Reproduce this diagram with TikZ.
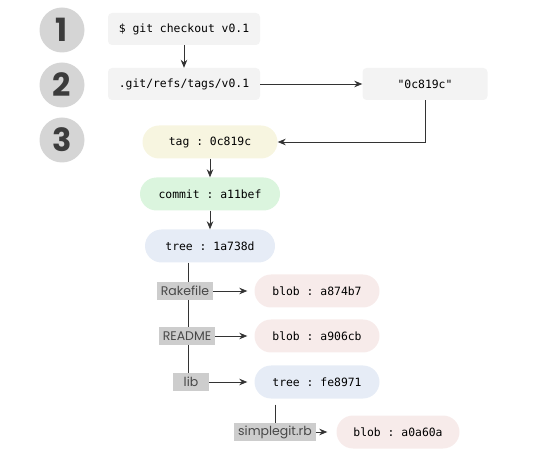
\documentclass[tikz,border=0pt]{standalone}
\usepackage{fontspec}
\setmainfont{Poppins}
\setmonofont{DejaVu Sans Mono}
\usetikzlibrary{arrows.meta}
\definecolor{numgray}{HTML}{D5D5D5}
\definecolor{numtext}{HTML}{3C3C3C}
\definecolor{cmdbg}{HTML}{F3F3F3}
\definecolor{tagbg}{HTML}{F7F5E0}
\definecolor{commitbg}{HTML}{DBF5DE}
\definecolor{treebg}{HTML}{E6ECF6}
\definecolor{blobbg}{HTML}{F7EBEA}
\definecolor{labelgray}{HTML}{CDCDCD}
\definecolor{labeltext}{HTML}{484848}
\definecolor{linegray}{HTML}{333333}
\begin{document}
\begin{tikzpicture}[x=1pt,y=-1pt,
  num/.style={circle,fill=numgray,minimum size=45pt,inner sep=0pt,text=numtext,font=\fontsize{32}{32}\selectfont\bfseries},
  cmd/.style={rectangle,rounded corners=4pt,fill=cmdbg,minimum height=32pt,font=\fontsize{11.4}{12}\ttfamily},
  obj/.style={rectangle,rounded corners=16.5pt,minimum height=33pt,font=\fontsize{11.4}{12}\ttfamily},
  fname/.style={rectangle,fill=labelgray,inner xsep=4pt,inner ysep=1pt,minimum height=17.5pt,text=labeltext,font=\fontsize{12.5}{12.5}\selectfont},
  link/.style={-{Stealth[length=8pt,width=6.5pt]},thick,draw=linegray}]
    \useasboundingbox (0,0) rectangle (549,462);
    \node[num] (one) at (62,30) {1};
    \node[num] (two) at (62,85) {2};
    \node[num] (three) at (62,140) {3};

    \node[cmd,minimum width=152pt] (checkout) at (184,29) {\$ git checkout v0.1};
    \node[cmd,minimum width=152pt] (ref) at (184,84) {.git/refs/tags/v0.1};
    \node[cmd,minimum width=125pt] (sha) at (425,84) {"0c819c"};

    \node[obj,fill=tagbg,minimum width=135pt] (tag) at (210,142) {tag : 0c819c};
    \node[obj,fill=commitbg,minimum width=140pt] (commit) at (210,194) {commit : a11bef};
    \node[obj,fill=treebg,minimum width=130pt] (tree) at (210,246) {tree : 1a738d};

    \node[fname] (rake) at (185,291) {Rakefile};
    \node[fname] (readme) at (187,336) {README};
    \node[fname,minimum width=36pt] (lib) at (191,382) {lib};
    \node[fname] (simple) at (275,432) {simplegit.rb};

    \node[obj,fill=blobbg,minimum width=125pt] (rakeblob) at (317,291) {blob : a874b7};
    \node[obj,fill=blobbg,minimum width=125pt] (readmeblob) at (317,336) {blob : a906cb};
    \node[obj,fill=treebg,minimum width=125pt] (libtree) at (317,382) {tree : fe8971};
    \node[obj,fill=blobbg,minimum width=123pt] (simpleblob) at (398,432) {blob : a0a60a};

    \draw[link] (checkout) -- (ref);
    \draw[link] (ref) -- (sha);
    \draw[link] (sha.south) |- (tag.east);
    \draw[link] (tag) -- (commit);
    \draw[link] (commit) -- (tree);
    \draw[thick,linegray] (tree.south -| 188,0) -- (rake.north -| 188,0) (rake.south -| 188,0) -- (readme.north -| 188,0) (readme.south -| 188,0) -- (lib.north -| 188,0);
    \draw[link,shorten >=7pt] (rake) -- (rakeblob);
    \draw[link,shorten >=7pt] (readme) -- (readmeblob);
    \draw[link,shorten >=7pt] (lib) -- (libtree);
    \draw[thick,linegray,shorten <=6pt] (libtree.south -| simple.north) -- (simple);
    \draw[link,shorten >=9pt] (simple) -- (simpleblob);
\end{tikzpicture}
\end{document}
